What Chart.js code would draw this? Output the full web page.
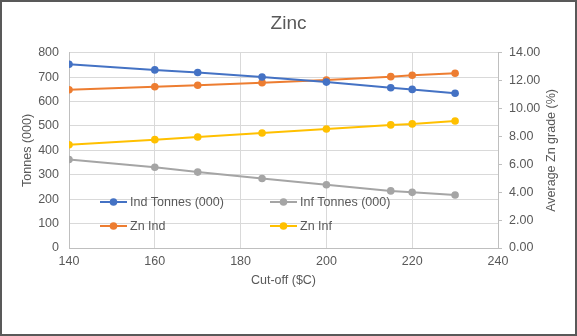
<!DOCTYPE html>
<html>
<head>
<meta charset="utf-8">
<script src="https://cdn.jsdelivr.net/npm/chart.js@4/dist/chart.umd.min.js"></script>
<style>
html,body{margin:0;padding:0;background:#fff;}
#wrap{width:577px;height:336px;position:relative;}
</style>
</head>
<body>
<div id="wrap"><canvas id="c" width="577" height="336"></canvas></div>
<script>
const cutoffs = [140, 160, 170, 185, 200, 215, 220, 230];
const indTonnes = [753, 730, 719, 701, 680, 657, 650, 634];
const infTonnes = [363, 331, 311, 285, 259, 234, 228, 217];
const znInd = [11.35, 11.57, 11.67, 11.86, 12.05, 12.29, 12.39, 12.53];
const znInf = [7.41, 7.77, 7.96, 8.25, 8.54, 8.83, 8.90, 9.11];
const seriesNames = ['Ind Tonnes (000)', 'Inf Tonnes (000)', 'Zn Ind', 'Zn Inf'];
const seriesColors = ['#4472C4', '#A5A5A5', '#ED7D31', '#FFC000'];

const FONT = "'Liberation Sans', Arial, sans-serif";
const TXT = '#595959';

function pts(vals){ return cutoffs.map((x,i)=>({x:x,y:vals[i]})); }
function ds(label, vals, color, axis){
  return {label:label, data:pts(vals), yAxisID:axis, borderColor:color, backgroundColor:color,
    pointBackgroundColor:color, pointBorderColor:color, pointBorderWidth:0, borderWidth:2, pointRadius:3.8, pointHoverRadius:3.8, tension:0};
}

const legendPlugin = {
  id:'customLegend',
  afterDatasetsDraw(chart){
    const ctx = chart.ctx;
    const cols = [100, 270];
    const rows = [202, 226];
    ctx.save();
    ctx.font = '12.5px ' + FONT;
    ctx.textBaseline = 'middle';
    ctx.textAlign = 'left';
    seriesNames.forEach((name, i)=>{
      const x = cols[i%2], y = rows[Math.floor(i/2)];
      const c = seriesColors[i];
      ctx.strokeStyle = c; ctx.lineWidth = 2;
      ctx.beginPath(); ctx.moveTo(x, y); ctx.lineTo(x+27, y); ctx.stroke();
      ctx.fillStyle = c;
      ctx.beginPath(); ctx.arc(x+13.5, y, 3.8, 0, Math.PI*2); ctx.fill();
      ctx.fillStyle = TXT;
      ctx.fillText(name, x+30, y+0.5);
    });
    ctx.restore();
  },
  afterDraw(chart){
    const ctx = chart.ctx;
    ctx.save();
    ctx.font = '12.5px ' + FONT;
    ctx.fillStyle = TXT;
    ctx.textAlign = 'center';
    ctx.textBaseline = 'middle';
    const ca = chart.chartArea;
    ctx.translate(552, (ca.top + ca.bottom)/2);
    ctx.rotate(-Math.PI/2);
    ctx.fillText('Average Zn grade (%)', 0, 0);
    ctx.restore();
    ctx.save();
    ctx.strokeStyle = '#595959';
    ctx.lineWidth = 2;
    ctx.strokeRect(1, 1, 575, 334);
    ctx.restore();
  },
  beforeDraw(chart){
    const ctx = chart.ctx;
    ctx.save(); ctx.fillStyle = '#fff'; ctx.fillRect(0,0,chart.width,chart.height); ctx.restore();
  }
};

new Chart(document.getElementById('c'), {
  type:'line',
  data:{ datasets:[
    ds(seriesNames[0], indTonnes, seriesColors[0], 'y'),
    ds(seriesNames[1], infTonnes, seriesColors[1], 'y'),
    ds(seriesNames[2], znInd, seriesColors[2], 'y1'),
    ds(seriesNames[3], znInf, seriesColors[3], 'y1')
  ]},
  options:{
    responsive:false, animation:false, devicePixelRatio:1,
    layout:{padding:{top:0, left:0, right:0, bottom:38}},
    plugins:{
      legend:{display:false},
      tooltip:{enabled:false},
      title:{display:true, text:'Zinc', color:TXT, font:{family:FONT, size:19, weight:'normal'}, padding:{top:12, bottom:18}}
    },
    scales:{
      x:{type:'linear', min:140, max:240,
        ticks:{stepSize:20, color:TXT, font:{family:FONT, size:12.5}, padding:6, maxRotation:0},
        grid:{color:'#d9d9d9', drawTicks:false},
        border:{color:'#bfbfbf', width:1},
        title:{display:true, text:'Cut-off ($C)', color:TXT, font:{family:FONT, size:12.5}, padding:{top:0,bottom:10}},
        afterFit(s){ s.height = 50; }
      },
      y:{type:'linear', position:'left', min:0, max:800,
        ticks:{stepSize:100, color:TXT, font:{family:FONT, size:12.5}, padding:10},
        grid:{color:'#d9d9d9', drawTicks:false},
        border:{color:'#bfbfbf', width:1},
        title:{display:true, text:'Tonnes (000)', color:TXT, font:{family:FONT, size:12.5}, padding:{top:20,bottom:0}},
        afterFit(s){ s.width = 69; }
      },
      y1:{type:'linear', position:'right', min:0, max:14,
        ticks:{stepSize:2, color:TXT, font:{family:FONT, size:12.5}, padding:7, callback:v=>Number(v).toFixed(2)},
        grid:{drawOnChartArea:false, drawTicks:true, tickLength:4, color:'#bfbfbf'},
        border:{color:'#bfbfbf', width:1},
        afterFit(s){ s.width = 79; }
      }
    }
  },
  plugins:[legendPlugin]
});
</script>
</body>
</html>
